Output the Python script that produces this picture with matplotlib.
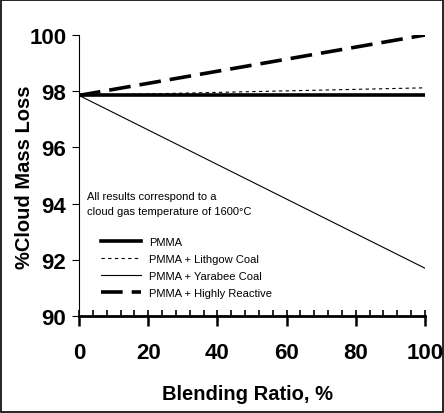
import matplotlib
matplotlib.use('Agg')
import matplotlib.pyplot as plt
from matplotlib.ticker import MultipleLocator
from matplotlib.patches import Rectangle

plt.rcParams['font.family'] = ['Liberation Sans', 'DejaVu Sans']

# data
blend = [0, 100]
pmma = [97.85, 97.85]
lithgow = [97.85, 98.12]
yarabee = [97.85, 91.7]
reactive = [97.85, 100.0]

fig = plt.figure(figsize=(4.44, 4.14), dpi=100)
ax = fig.add_axes([79 / 444, 1 - 317 / 414, 346 / 444, 281 / 414])

ax.plot(blend, pmma, color='black', lw=2.6, label='PMMA')
ax.plot(blend, lithgow, color='black', lw=0.8, ls=(0, (3, 3)), label='PMMA + Lithgow Coal')
ax.plot(blend, yarabee, color='black', lw=0.8, label='PMMA + Yarabee Coal')
ax.plot(blend, reactive, color='black', lw=2.6, ls=(0, (6, 2.5)), label='PMMA + Highly Reactive')

ax.set_xlim(0, 100)
ax.set_ylim(90, 100)
ax.xaxis.set_major_locator(MultipleLocator(20))
ax.xaxis.set_minor_locator(MultipleLocator(4))
ax.xaxis.remove_overlapping_locs = False
ax.yaxis.set_major_locator(MultipleLocator(2))

for s in ['top', 'right']:
    ax.spines[s].set_visible(False)
ax.spines['bottom'].set_linewidth(2)
ax.spines['left'].set_linewidth(0.8)

ax.tick_params(axis='x', which='major', direction='out', length=7, width=1.8, pad=12)
ax.tick_params(axis='x', which='minor', direction='in', length=4, width=1.2)
ax.tick_params(axis='y', which='major', direction='out', length=5, width=0.8, pad=4)
for lab in ax.get_xticklabels() + ax.get_yticklabels():
    lab.set_fontsize(16)
    lab.set_fontweight('bold')

fig.text(248 / 444, 1 - 395 / 414, 'Blending Ratio, %', fontsize=14.5, fontweight='bold',
         ha='center', va='center')
fig.text(25 / 444, 1 - 177 / 414, '%Cloud Mass Loss', fontsize=14.5, fontweight='bold',
         ha='center', va='center', rotation=90)

ax.text(0.023, 0.445, 'All results correspond to a\ncloud gas temperature of 1600\u00b0C',
        transform=ax.transAxes, fontsize=8, va='top', ha='left', linespacing=1.6)

leg = ax.legend(loc='lower left', bbox_to_anchor=(0.035, 0.03), frameon=False, handlelength=3.6,
                handletextpad=0.7, prop={'size': 8}, labelspacing=0.62)

fig.add_artist(Rectangle((0.003, 0.003), 0.994, 0.994, transform=fig.transFigure,
                         fill=False, lw=1.2, edgecolor='black'))

fig.savefig('out.png', dpi=100)
